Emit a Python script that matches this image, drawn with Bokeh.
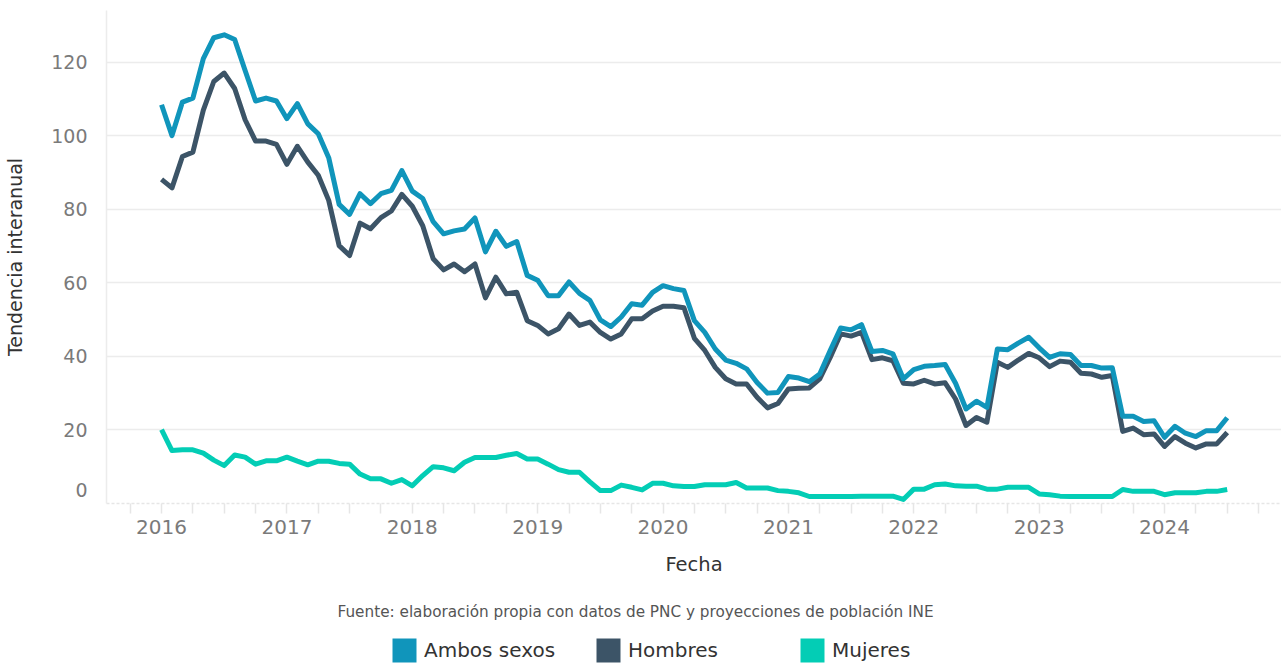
import numpy as np
import pandas as pd
from bokeh.plotting import figure
from bokeh.layouts import column
from bokeh.models import FixedTicker, Legend, LegendItem, Label, ColumnDataSource
from bokeh.embed import file_html
from bokeh.resources import INLINE

# ---------------- data ----------------
fechas = pd.date_range("2016-01-01", periods=103, freq="MS")

ambos = [108.4, 100.0, 109.1, 110.2, 120.9, 126.6, 127.4, 126.1, 117.7, 109.4, 110.2, 109.4,
         104.6, 108.7, 103.2, 100.5, 94.0, 81.3, 78.6, 84.2, 81.5, 84.2, 85.1, 90.5,
         84.9, 82.9, 76.6, 73.3, 74.1, 74.6, 77.6, 68.4, 74.0, 69.9, 71.2, 62.0,
         60.7, 56.5, 56.5, 60.2, 57.1, 55.2, 49.9, 48.1, 50.7, 54.3, 53.9, 57.4,
         59.2, 58.4, 57.9, 49.7, 46.5, 42.0, 39.0, 38.1, 36.6, 32.9, 30.0, 30.2,
         34.5, 34.1, 33.1, 35.2, 41.6, 47.7, 47.2, 48.6, 41.3, 41.6, 40.7, 33.9,
         36.4, 37.3, 37.5, 37.8, 32.7, 25.7, 27.8, 26.1, 42.0, 41.8, 43.6, 45.2,
         42.3, 39.7, 40.7, 40.5, 37.5, 37.5, 36.8, 36.9, 23.7, 23.7, 22.3, 22.5,
         18.0, 21.0, 19.1, 18.2, 19.8, 19.8, 23.3]

hombres = [88.1, 85.8, 94.3, 95.5, 106.9, 114.7, 117.0, 112.8, 104.3, 98.5, 98.5, 97.6,
           92.2, 97.1, 92.8, 89.2, 82.4, 70.1, 67.4, 76.2, 74.7, 77.7, 79.5, 84.0,
           80.8, 75.5, 66.5, 63.5, 65.1, 63.0, 65.1, 55.9, 61.5, 57.0, 57.4, 49.7,
           48.4, 46.1, 47.5, 51.5, 48.4, 49.3, 46.5, 44.7, 46.1, 50.2, 50.2, 52.3,
           53.6, 53.6, 53.2, 44.9, 41.6, 37.0, 33.9, 32.5, 32.5, 28.9, 26.0, 27.2,
           31.1, 31.3, 31.4, 33.9, 39.7, 46.1, 45.5, 46.5, 39.1, 39.6, 38.8, 32.7,
           32.5, 33.5, 32.5, 32.8, 28.4, 21.2, 23.4, 22.1, 38.4, 37.0, 39.0, 40.8,
           39.6, 37.2, 38.7, 38.4, 35.4, 35.2, 34.3, 34.8, 19.6, 20.5, 18.7, 18.9,
           15.5, 18.2, 16.4, 15.1, 16.2, 16.2, 19.3]

mujeres = [20.1, 14.4, 14.6, 14.6, 13.7, 11.8, 10.3, 13.2, 12.6, 10.7, 11.6, 11.6,
           12.6, 11.5, 10.5, 11.5, 11.5, 10.9, 10.7, 8.0, 6.7, 6.7, 5.5, 6.5,
           4.8, 7.6, 10.0, 9.7, 8.9, 11.2, 12.5, 12.5, 12.5, 13.1, 13.6, 12.1,
           12.1, 10.7, 9.2, 8.5, 8.5, 5.9, 3.5, 3.5, 5.0, 4.4, 3.7, 5.5,
           5.5, 4.8, 4.6, 4.6, 5.1, 5.1, 5.1, 5.7, 4.2, 4.2, 4.2, 3.5,
           3.3, 2.9, 1.9, 1.9, 1.9, 1.9, 1.9, 2.0, 2.0, 2.0, 2.0, 1.1,
           3.9, 3.9, 5.1, 5.3, 4.8, 4.7, 4.7, 3.9, 3.9, 4.4, 4.4, 4.4,
           2.6, 2.4, 2.0, 1.9, 1.9, 1.9, 1.9, 1.9, 3.8, 3.3, 3.3, 3.3,
           2.4, 2.9, 2.9, 2.9, 3.3, 3.3, 3.8]

series_names = ["Ambos sexos", "Hombres", "Mujeres"]
series_colors = ["#1095bb", "#3c5467", "#03cdb5"]

year_ticks = [2016, 2017, 2018, 2019, 2020, 2021, 2022, 2023, 2024]
year_labels = ["2016", "2017", "2018", "2019", "2020", "2021", "2022", "2023", "2024"]
grid_ticks = [20, 40, 60, 80, 100, 120]
# the original draws its "0" label a little above the baseline
zero_label_at = 3.75
y_ticks = [zero_label_at] + grid_ticks
y_labels = ["0", "20", "40", "60", "80", "100", "120"]

x_title = "Fecha"
y_title = "Tendencia interanual"
caption = "Fuente: elaboración propia con datos de PNC y proyecciones de población INE"

# ---------------- main figure ----------------
FONT = "DejaVu Sans"
x_start, x_end = 2015.561, 2024.933
y_start, y_end = 0, 134

x = (fechas.year + (fechas.month - 1) / 12.0).to_numpy()
src = ColumnDataSource(dict(x=x, ambos=ambos, hombres=hombres, mujeres=mujeres))

p = figure(width=1281, height=585, x_range=(x_start, x_end), y_range=(y_start, y_end),
           output_backend="svg", toolbar_location=None,
           min_border_left=106, min_border_right=0, min_border_top=10, min_border_bottom=82)
p.outline_line_color = None
p.xgrid.visible = False
p.ygrid.ticker = FixedTicker(ticks=grid_ticks)
p.ygrid.grid_line_color = "#ececec"
p.ygrid.grid_line_width = 1.5

# y axis
p.yaxis.ticker = FixedTicker(ticks=y_ticks)
p.yaxis.major_label_overrides = {t: l for t, l in zip(y_ticks, y_labels)}
p.yaxis.axis_line_color = "#ececec"
p.yaxis.axis_line_width = 1.5
p.yaxis.major_tick_line_color = None
p.yaxis.minor_tick_line_color = None
p.yaxis.major_label_text_color = "#7a7a7a"
p.yaxis.major_label_text_font = FONT
p.yaxis.major_label_text_font_size = "19px"
p.yaxis.major_label_standoff = 13
p.yaxis.axis_label = y_title
p.yaxis.axis_label_text_font = FONT
p.yaxis.axis_label_text_font_size = "19px"
p.yaxis.axis_label_text_font_style = "normal"
p.yaxis.axis_label_text_color = "#333333"
p.yaxis.axis_label_standoff = 22

# x axis
quarters = [t + q for t in range(2015, 2025) for q in (0.25, 0.5, 0.75)]
p.xaxis.ticker = FixedTicker(ticks=year_ticks, minor_ticks=quarters)
p.xaxis.major_label_overrides = {t: l for t, l in zip(year_ticks, year_labels)}
p.xaxis.axis_line_color = "#e6e6e6"
p.xaxis.axis_line_width = 1.5
p.xaxis.axis_line_dash = "3 2"
p.xaxis.major_tick_line_color = "#e6e6e6"
p.xaxis.minor_tick_line_color = "#e6e6e6"
p.xaxis.major_tick_line_width = 1.5
p.xaxis.minor_tick_line_width = 1.5
p.xaxis.major_tick_in = 0
p.xaxis.major_tick_out = 10
p.xaxis.minor_tick_in = 0
p.xaxis.minor_tick_out = 10
p.xaxis.major_label_text_color = "#7a7a7a"
p.xaxis.major_label_text_font = FONT
p.xaxis.major_label_text_font_size = "20px"
p.xaxis.major_label_standoff = 6
p.xaxis.axis_label = x_title
p.xaxis.axis_label_text_font = FONT
p.xaxis.axis_label_text_font_size = "19.5px"
p.xaxis.axis_label_text_font_style = "normal"
p.xaxis.axis_label_text_color = "#333333"
p.xaxis.axis_label_standoff = 16

# lines
for col, color in [("mujeres", series_colors[2]), ("hombres", series_colors[1]), ("ambos", series_colors[0])]:
    p.line("x", col, source=src, line_color=color, line_width=5, line_join="round")

# ---------------- caption + legend strip ----------------
lg = figure(width=1281, height=80, x_range=(0, 1), y_range=(0, 1),
            output_backend="svg", toolbar_location=None,
            x_axis_location=None, y_axis_location=None,
            min_border_left=0, min_border_right=0, min_border_top=0, min_border_bottom=0)
lg.grid.visible = False
lg.outline_line_color = None

lg.add_layout(Label(x=231, y=54, x_units="screen", y_units="screen", text=caption,
                    text_align="left", text_baseline="middle", text_font=FONT,
                    text_font_size="15.25px", text_color="#555555"))

items = []
for name, color in zip(series_names, series_colors):
    r = lg.quad(left=[np.nan], right=[np.nan], top=[np.nan], bottom=[np.nan],
                fill_color=color, line_color=None)
    items.append(LegendItem(label=name, renderers=[r]))
leg = Legend(items=items, orientation="horizontal", location=(283, 0),
             glyph_width=30, glyph_height=30, label_standoff=5, label_width=169,
             spacing=0, padding=0, margin=0, border_line_color=None,
             background_fill_alpha=0,
             label_text_font=FONT, label_text_font_size="20px", label_text_color="#333333")
lg.add_layout(leg)

open("out.html", "w").write(file_html(column(p, lg), INLINE))
